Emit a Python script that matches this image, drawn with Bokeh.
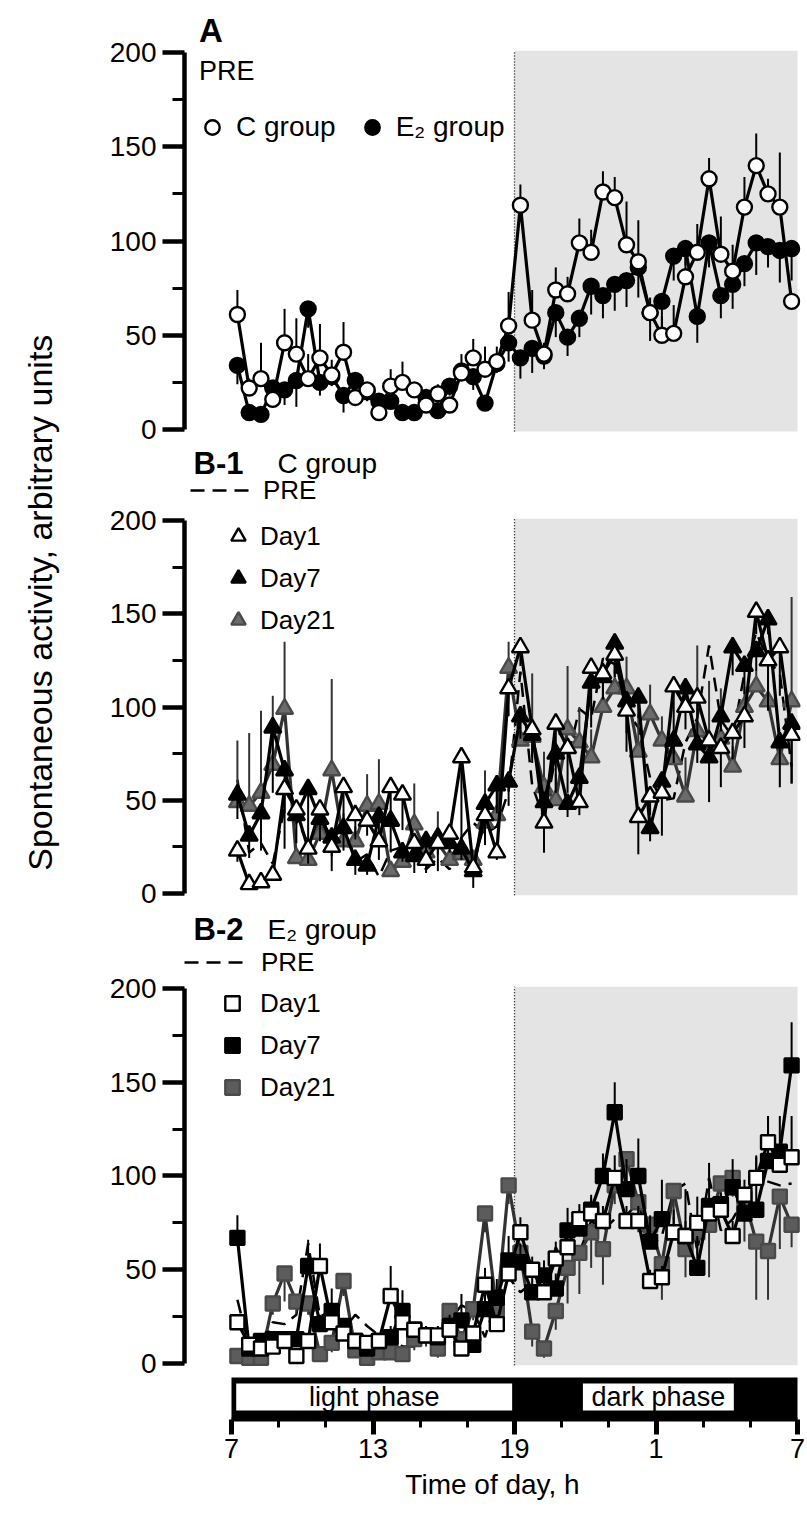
import math
from bokeh.plotting import figure
from bokeh.models import Range1d, FixedTicker, Label, Legend, LegendItem, ColumnDataSource
from bokeh.layouts import row, column
from bokeh.embed import file_html
from bokeh.resources import INLINE

FONT = "Liberation Sans"

# ---------------- data ----------------
# time of day (h, bin centres, 7:00 -> 7:00 next day written as 7..31)
T = [7.25, 7.75, 8.25, 8.75, 9.25, 9.75, 10.25, 10.75, 11.25, 11.75, 12.25, 12.75,
     13.25, 13.75, 14.25, 14.75, 15.25, 15.75, 16.25, 16.75, 17.25, 17.75, 18.25, 18.75,
     19.25, 19.75, 20.25, 20.75, 21.25, 21.75, 22.25, 22.75, 23.25, 23.75, 24.25, 24.75,
     25.25, 25.75, 26.25, 26.75, 27.25, 27.75, 28.25, 28.75, 29.25, 29.75, 30.25, 30.75]

X_TICKS = [7, 13, 19, 25, 31]
X_MINOR = [9, 11, 15, 17, 21, 23, 27, 29]
X_LABELS = {7: "7", 13: "13", 19: "19", 25: "1", 31: "7"}
Y_TICKS = [0, 50, 100, 150, 200]
Y_MINOR = [25, 75, 125, 175]
DARK_START, DARK_END = 19, 31

# Panel A (PRE)
A_C = [61, 22, 27, 16, 46, 40, 27, 38, 29, 41, 17, 21, 9, 23, 25, 21, 13, 19, 13, 30, 38, 32, 36, 55,
       119, 58, 40, 74, 72, 99, 94, 126, 123, 98, 89, 62, 50, 51, 81, 94, 133, 93, 84, 118, 140, 125, 118, 68]
A_C_ERR = [13, 5, 19, 4, 18, 19, 13, 18, 8, 16, 5, 4, 3, 9, 11, 4, 4, 5, 3, 10, 10, 12, 8, 18,
           11, 16, 6, 12, 9, 13, 12, 11, 11, 23, 22, 8, 10, 15, 11, 15, 11, 20, 14, 16, 17, 8, 29, 4]
A_E = [34, 9, 8, 22, 21, 26, 64, 25, 28, 18, 26, 20, 15, 15, 9, 9, 17, 10, 23, 31, 28, 14, 35, 46,
       38, 43, 39, 62, 49, 59, 76, 71, 77, 79, 86, 62, 68, 92, 96, 60, 99, 71, 77, 88, 99, 97, 95, 96]
A_E_ERR = [10, 3, 3, 7, 8, 14, 10, 7, 5, 9, 4, 5, 3, 3, 3, 3, 4, 3, 5, 5, 7, 4, 5, 10,
           11, 13, 7, 13, 10, 10, 15, 12, 14, 14, 16, 15, 21, 13, 9, 14, 13, 12, 13, 12, 17, 11, 17, 17]

# Panel B-1 (C group)
B1_D1 = [23, 5, 6, 10, 56, 45, 24, 45, 25, 57, 42, 39, 28, 57, 53, 27, 18, 27, 32, 73, 14, 42, 22, 110,
         132, 88, 38, 91, 78, 49, 121, 118, 128, 98, 41, 52, 54, 111, 100, 105, 82, 78, 86, 95, 151, 125, 132, 85]
B1_D1_ERR = [6, 3, 3, 3, 32, 8, 8, 8, 13, 17, 13, 8, 10, 20, 19, 8, 7, 6, 8, 48, 5, 8, 4, 15,
             10, 15, 16, 19, 24, 7, 10, 12, 12, 12, 20, 10, 23, 36, 12, 25, 12, 21, 14, 17, 12, 27, 26, 26]
B1_D7 = [53, 31, 43, 89, 66, 42, 56, 40, 30, 35, 18, 15, 41, 39, 22, 20, 28, 30, 27, 24, 12, 48, 58, 60,
         95, 85, 49, 75, 48, 62, 113, 116, 134, 103, 105, 35, 60, 82, 110, 80, 73, 95, 132, 122, 130, 147, 81, 91]
B1_D7_ERR = [13, 12, 20, 35, 23, 15, 30, 12, 10, 12, 8, 5, 13, 17, 5, 9, 6, 18, 5, 6, 9, 22, 15, 13,
             12, 15, 27, 21, 7, 10, 24, 12, 16, 27, 11, 7, 10, 12, 9, 10, 24, 8, 15, 15, 11, 8, 24, 32]
B1_D21 = [49, 47, 54, 69, 99, 19, 18, 32, 66, 28, 28, 47, 48, 12, 17, 37, 22, 27, 18, 21, 18, 38, 42, 121,
          82, 84, 57, 50, 88, 81, 73, 100, 110, 110, 76, 96, 82, 72, 52, 87, 81, 83, 68, 100, 111, 103, 72, 103]
B1_D21_ERR = [33, 39, 44, 37, 36, 5, 5, 18, 49, 15, 8, 17, 24, 5, 8, 22, 6, 17, 5, 6, 5, 28, 13, 14,
              15, 34, 19, 14, 34, 19, 15, 19, 10, 17, 20, 16, 13, 9, 21, 46, 33, 27, 11, 11, 8, 13, 11, 56]

# Panel B-2 (E2 group)
B2_D1 = [22, 10, 8, 9, 12, 4, 12, 52, 22, 16, 12, 11, 12, 36, 22, 18, 15, 15, 18, 8, 16, 42, 21, 48,
         70, 50, 38, 56, 62, 77, 80, 76, 99, 76, 76, 44, 46, 70, 68, 75, 80, 82, 68, 90, 99, 118, 106, 110]
B2_D1_ERR = [4, 3, 3, 3, 4, 3, 4, 12, 5, 4, 4, 3, 4, 16, 5, 4, 4, 5, 4, 3, 4, 8, 5, 8,
             8, 7, 6, 9, 8, 8, 8, 8, 12, 8, 8, 6, 6, 8, 8, 14, 8, 8, 8, 8, 12, 14, 10, 22]
B2_D7 = [67, 8, 12, 13, 13, 13, 52, 21, 28, 20, 12, 8, 12, 14, 28, 18, 15, 14, 20, 23, 10, 29, 35, 55,
         54, 38, 47, 40, 71, 72, 82, 100, 134, 93, 100, 65, 77, 70, 68, 51, 84, 85, 94, 80, 82, 108, 113, 159]
B2_D7_ERR = [12, 3, 4, 4, 4, 4, 14, 5, 12, 4, 4, 4, 4, 6, 11, 4, 5, 5, 6, 14, 4, 22, 10, 13,
             10, 8, 8, 8, 12, 10, 8, 12, 16, 16, 20, 14, 21, 12, 25, 17, 23, 6, 15, 10, 28, 24, 19, 23]
B2_D21 = [4, 3, 3, 32, 48, 33, 32, 5, 11, 44, 7, 3, 6, 6, 5, 13, 15, 8, 28, 13, 29, 80, 28, 95,
          59, 17, 8, 28, 51, 59, 70, 61, 95, 109, 86, 74, 53, 92, 61, 70, 74, 96, 99, 88, 65, 60, 89, 74]
B2_D21_ERR = [3, 2, 2, 6, 15, 6, 6, 3, 5, 8, 4, 2, 4, 4, 3, 6, 6, 5, 8, 6, 6, 10, 8, 10,
              8, 8, 5, 10, 19, 22, 19, 19, 10, 12, 16, 10, 19, 15, 15, 12, 28, 13, 10, 23, 31, 26, 28, 12]

# ---------------- layout helpers ----------------
X_START, X_END = 5.007, 31.127
GRAY_BG = "#e4e4e4"
GRAY_MK = "#6b6b6b"


def style_y(p):
    ax = p.yaxis[0]
    ax.bounds = (0, 200)
    ax.ticker = FixedTicker(ticks=Y_TICKS, minor_ticks=Y_MINOR)
    ax.axis_line_width = 4.5
    ax.major_tick_line_width = 4.5
    ax.minor_tick_line_width = 3
    ax.major_tick_out = 22
    ax.major_tick_in = 0
    ax.minor_tick_out = 12
    ax.minor_tick_in = 0
    ax.major_label_text_font = FONT
    ax.major_label_text_font_size = "28px"
    ax.major_label_text_color = "black"
    ax.major_label_standoff = 6


def panel(height, ymin, ymax, bottom=0, xaxis=False):
    p = figure(width=737, height=height, x_range=Range1d(X_START, X_END), y_range=Range1d(ymin, ymax),
               output_backend="svg", toolbar_location=None,
               x_axis_location="below" if xaxis else None,
               min_border_left=114, min_border_right=7, min_border_top=0, min_border_bottom=bottom)
    p.outline_line_color = None
    p.grid.visible = False
    p.quad(left=DARK_START, right=DARK_END, bottom=-1, top=201, fill_color=GRAY_BG, line_color=None)
    p.segment(x0=DARK_START, y0=-1, x1=DARK_START, y1=201, line_color="black", line_width=1.3, line_dash="1 2")
    style_y(p)
    return p


def series(p, y, err, direction, marker, fill, outline, size, line_color="black", bar_color="black"):
    ye = [v + direction * e for v, e in zip(y, err)]
    src = ColumnDataSource(dict(t=T, y=y, ye=ye))
    p.segment(x0="t", y0="y", x1="t", y1="ye", source=src, line_color=bar_color, line_width=2)
    p.line("t", "y", source=src, line_color=line_color, line_width=3.2)
    return p.scatter("t", "y", source=src, marker=marker, size=size, fill_color=fill,
                     line_color=outline, line_width=2.4)


def pre_line(p, y):
    src = ColumnDataSource(dict(t=T, y=y))
    return p.line("t", "y", source=src, line_color="black", line_width=2.5, line_dash="14 8")


def legend(items, loc, gw, orientation="vertical", standoff=6, spacing=6, size="26px"):
    return Legend(items=items, location=loc, orientation=orientation, glyph_width=gw, glyph_height=36,
                  label_standoff=standoff, spacing=spacing, padding=0, margin=0,
                  border_line_color=None, background_fill_alpha=0,
                  label_text_font=FONT, label_text_font_size=size, label_text_color="black")


def lab(p, x, y, text, size, bold=False, align="left"):
    p.add_layout(Label(x=x, y=y, text=text, text_font=FONT, text_font_size=size,
                       text_font_style="bold" if bold else "normal", text_baseline="middle",
                       text_align=align, text_color="black"))


# ---------------- Panel A ----------------
pA = panel(444, -7.96, 227.6)
rE = series(pA, A_E, A_E_ERR, -1, "circle", "black", "black", 15)
rC = series(pA, A_C, A_C_ERR, +1, "circle", "white", "black", 15)
lab(pA, 5.62, 211.5, "A", "33px", bold=True)
lab(pA, 5.62, 190, "PRE", "27px")
pA.add_layout(legend([LegendItem(label="C group", renderers=[rC]),
                      LegendItem(label="E₂ group", renderers=[rE])],
                     (10, 299), 36, orientation="horizontal", standoff=6, spacing=18, size="28px"))

# ---------------- Panel B-1 ----------------
pB1 = panel(464, -8.04, 240.75)
rP1 = pre_line(pB1, A_C)
r21 = series(pB1, B1_D21, B1_D21_ERR, +1, "triangle", GRAY_MK, "#4a4a4a", 17, line_color="#333333", bar_color="#333333")
r7 = series(pB1, B1_D7, B1_D7_ERR, -1, "triangle", "black", "black", 17)
r1 = series(pB1, B1_D1, B1_D1_ERR, -1, "triangle", "white", "black", 17)
lab(pB1, 5.39, 230.6, "B-1", "31px", bold=True)
lab(pB1, 8.95, 230.6, "C group", "28px")
pB1.add_layout(legend([LegendItem(label="PRE", renderers=[rP1])], (6, 400), 60, standoff=13))
pB1.add_layout(legend([LegendItem(label="Day1", renderers=[r1]),
                       LegendItem(label="Day7", renderers=[r7]),
                       LegendItem(label="Day21", renderers=[r21])], (36, 270), 36, standoff=4, spacing=6))

# ---------------- Panel B-2 ----------------
pB2 = panel(605, -29.87, 242.67, bottom=94, xaxis=True)
rP2 = pre_line(pB2, A_E)
s21 = series(pB2, B2_D21, B2_D21_ERR, -1, "square", "#5c5c5c", "#4a4a4a", 14, line_color="#333333", bar_color="#333333")
s7 = series(pB2, B2_D7, B2_D7_ERR, +1, "square", "black", "black", 14)
s1 = series(pB2, B2_D1, B2_D1_ERR, +1, "square", "white", "black", 14)
lab(pB2, 5.39, 231.5, "B-2", "31px", bold=True)
lab(pB2, 8.53, 231.5, "E₂ group", "28px")
pB2.add_layout(legend([LegendItem(label="PRE", renderers=[rP2])], (0, 439), 60, standoff=17))
pB2.add_layout(legend([LegendItem(label="Day1", renderers=[s1]),
                       LegendItem(label="Day7", renderers=[s7]),
                       LegendItem(label="Day21", renderers=[s21])], (30, 314), 36, standoff=10, spacing=6))

# light / dark phase bar
pB2.quad(left=X_TICKS[0], right=X_TICKS[-1], bottom=-40, top=-7.5, fill_color="black", line_color=None)
pB2.quad(left=7.2, right=18.9, bottom=-25.1, top=-10.7, fill_color="white", line_color=None)
pB2.quad(left=21.9, right=28.3, bottom=-25.1, top=-10.7, fill_color="white", line_color=None)
lab(pB2, 13.05, -17.9, "light phase", "27px", align="center")
lab(pB2, 25.1, -17.9, "dark phase", "27px", align="center")

xa = pB2.xaxis[0]
xa.bounds = (X_TICKS[0], X_TICKS[-1])
xa.ticker = FixedTicker(ticks=X_TICKS, minor_ticks=X_MINOR)
xa.major_label_overrides = X_LABELS
xa.axis_line_width = 4
xa.major_tick_line_width = 5
xa.minor_tick_line_width = 3
xa.major_tick_out = 15
xa.major_tick_in = 0
xa.minor_tick_out = 8
xa.minor_tick_in = 0
xa.major_label_text_font = FONT
xa.major_label_text_font_size = "27px"
xa.major_label_text_color = "black"
xa.major_label_standoff = 4
xa.axis_label = "Time of day, h"
xa.axis_label_text_font = FONT
xa.axis_label_text_font_size = "28px"
xa.axis_label_text_font_style = "normal"
xa.axis_label_text_color = "black"
xa.axis_label_standoff = 8

# ---------------- common y label ----------------
yl = figure(width=70, height=1513, x_range=Range1d(0, 1), y_range=Range1d(0, 1),
            output_backend="svg", toolbar_location=None, x_axis_location=None, y_axis_location=None,
            min_border=0)
yl.outline_line_color = None
yl.grid.visible = False
yl.add_layout(Label(x=0.57, y=0.602, text="Spontaneous activity, arbitrary units", angle=math.pi / 2,
                    text_align="center", text_baseline="middle", text_font=FONT, text_font_size="34px",
                    text_color="black"))

layout = row(yl, column(pA, pB1, pB2))
open("out.html", "w").write(file_html(layout, INLINE))
